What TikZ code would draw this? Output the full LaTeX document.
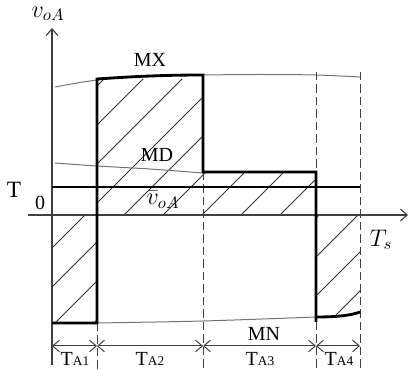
\documentclass[tikz,border=0pt]{standalone}
\usepackage{fontspec}
\setmainfont{Liberation Serif}
\usetikzlibrary{arrows.meta,calc,positioning}

\tikzset{
  wave/.style={line width=1.7pt,black},
  envl/.style={black!55,line width=0.6pt},
  axis/.style={black!75,line width=0.7pt},
  guide/.style={black!75,line width=0.6pt,dash pattern=on 5pt off 2.5pt},
  hatchline/.style={black!80,line width=0.5pt},
  dim/.style={black!75,line width=0.6pt,<->},
  lbl/.style={inner sep=0pt},
  mlbl/.style={inner sep=0pt,font=\fontsize{14}{16}\selectfont},
}

\begin{document}
\begin{tikzpicture}[x=0.6pt,y=-0.6pt,>={Straight Barb[length=4pt,width=7pt]},
                    font=\fontsize{12}{14}\selectfont]
  \def\xo{52}           % eje vertical
  \def\xa{97}           % fin de TA1
  \def\xb{203}          % fin de TA2
  \def\xc{316}          % fin de TA3
  \def\xd{360}          % fin de TA4 = Ts
  \def\yz{215}          % eje horizontal (cero)
  \def\ym{187}          % valor medio
  \def\yd{346}          % cotas

  \useasboundingbox (0,0) rectangle (417,370);

  % --- zonas rayadas
  \begin{scope}
    \clip (\xo,\yz) rectangle (\xa,323)
          (\xa,79) rectangle (\xb,\yz)
          (\xb,172) rectangle (\xc,\yz)
          (\xc,\yz) -- (\xc,317) .. controls (340,317) and (352,315) .. (\xd,312)
          -- (\xd,\yz) -- cycle;
    \foreach \k in {-3,...,12}
      \draw[hatchline] ({222+39*\k-420},420) -- ({222+39*\k},0);
  \end{scope}

  % --- ejes
  \draw[axis,->] (\xo,365) -- (\xo,28);
  \draw[axis,->] (28,\yz) -- (408,\yz);
  \node[mlbl] (vaxis) at (48,14) {$v_{oA}$};
  \node[mlbl] (ts) at (381,240) {$T_s$};
  \node[lbl,font=\fontsize{14}{16}\selectfont] (tlab) at (14,190) {T};
  \node[lbl] (zero) at (40,203) {0};

  % --- envolventes
  \draw[envl] plot[smooth] coordinates {(55,87) (\xa,80) (150,76) (\xb,75) (260,74.5) (\xc,75) (\xd,77)};
  \draw[envl] plot[smooth] coordinates {(55,163) (\xa,166) (150,169) (\xb,173)};
  \draw[envl] plot[smooth] coordinates {(\xa,323) (\xb,321) (\xc,317)};

  % --- divisiones
  \draw[guide] (\xa,323) -- (\xa,370);
  \draw[guide] (\xb,172) -- (\xb,370);
  \draw[guide] (\xc,72) -- (\xc,172);
  \draw[guide] (\xc,322) -- (\xc,370);
  \draw[guide] (\xd,72) -- (\xd,370);

  % --- tension de salida
  \draw[wave] (\xo,323) -- (\xa,323) -- (\xa,79)
              .. controls (140,76) and (170,75) .. (\xb,75)
              -- (\xb,172) -- (\xc,172) -- (\xc,322);
  \draw[wave] (\xc,317) .. controls (340,317) and (352,315) .. (\xd,312);
  \draw[wave] (\xo,\ym) -- (\xd,\ym);

  \node[lbl] (mx) at (150,60) {MX};
  \node[lbl] (md) at (157,155) {MD};
  \node[mlbl] (vm) at (163,200) {$\bar{v}_{oA}$};
  \node[lbl] (mn) at (264,334) {MN};

  % --- cotas
  \draw[dim] (\xo,\yd) -- (\xa,\yd);
  \draw[dim] (\xa,\yd) -- (\xb,\yd);
  \draw[dim] (\xb,\yd) -- (\xc,\yd);
  \draw[dim] (\xc,\yd) -- (\xd,\yd);
  \node[lbl] (ta1) at (75,359) {T{\footnotesize A1}};
  \node[lbl] (ta2) at (150,359) {T{\footnotesize A2}};
  \node[lbl] (ta3) at (260,359) {T{\footnotesize A3}};
  \node[lbl] (ta4) at (339,359) {T{\footnotesize A4}};
\end{tikzpicture}
\end{document}
